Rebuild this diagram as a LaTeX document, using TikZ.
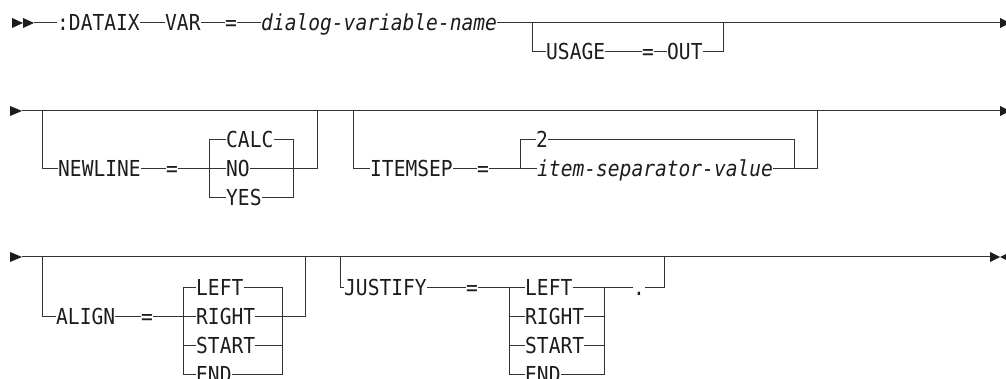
\documentclass[tikz,border=0pt]{standalone}
\usepackage{fontspec}
\setmonofont[FakeStretch=0.89]{DejaVu Sans Mono}
\usepackage{tikz}
\usetikzlibrary{arrows.meta}
\definecolor{ink}{HTML}{1C1C1C}
\definecolor{rail}{HTML}{333333}
\tikzset{
  kw/.style={font=\ttfamily\fontsize{22}{24}\selectfont,text=ink,inner xsep=0pt,inner ysep=0pt,
    text height=16pt,text depth=0pt,anchor=west},
  varname/.style={kw,font=\ttfamily\itshape\fontsize{22}{24}\selectfont},
  track/.style={draw=rail,line width=1pt},
  headfill/.style={fill=ink},
}

\begin{document}
\begin{tikzpicture}[x=1pt,y=-1pt]
  \useasboundingbox (0,0) rectangle (1006,379);

  % first line
  \fill[headfill] (12,18) -- (23,23) -- (12,28) -- cycle;
  \fill[headfill] (23,18) -- (34,23) -- (23,28) -- cycle;
  \fill[headfill] (1000,18) -- (1010,23) -- (1000,28) -- cycle;
  \coordinate (r1s) at (34,23);
  \coordinate (r1e) at (1000,23);
  \node[kw] (dataix) at (57,23) {:DATAIX};
  \node[kw] (var) at (165,23) {VAR};
  \node[kw] (eq1) at (225,23) {=};
  \node[varname] (dlg) at (261,23) {dialog-variable-name};
  \draw[track] (r1s) -- (dataix.west);
  \draw[track] (dataix.east) -- (var.west);
  \draw[track] (var.east) -- (eq1.west);
  \draw[track] (eq1.east) -- (dlg.west);
  \draw[track] (dlg.east) -- (r1e);

  \coordinate (u1) at (532,23);
  \coordinate (u2) at (723,23);
  \node[kw] (usage) at (546,52) {USAGE};
  \node[kw] (eq2) at (642,52) {=};
  \node[kw] (out) at (667,52) {OUT};
  \draw[track] (u1) |- (usage.west);
  \draw[track] (usage.east) -- (eq2.west);
  \draw[track] (eq2.east) -- (out.west);
  \draw[track] (out.east) -| (u2);

  % second line
  \fill[headfill] (10,106) -- (22,111) -- (10,116) -- cycle;
  \fill[headfill] (1000,106) -- (1010,111) -- (1000,116) -- cycle;
  \coordinate (r2s) at (22,111);
  \coordinate (r2e) at (1000,111);
  \draw[track] (r2s) -- (r2e);

  \coordinate (n1) at (42,111);
  \coordinate (n2) at (317,111);
  \coordinate (nl) at (209,140);
  \coordinate (nr) at (293,140);
  \node[kw] (newline) at (58,169) {NEWLINE};
  \node[kw] (eq3) at (166,169) {=};
  \node[kw] (calc) at (226,140) {CALC};
  \node[kw] (no) at (226,169) {NO};
  \node[kw] (yes) at (226,198) {YES};
  \draw[track] (n1) |- (newline.west);
  \draw[track] (newline.east) -- (eq3.west);
  \draw[track] (eq3.east) -- (no.west);
  \draw[track] (calc.west) -- (nl) -- (nl |- yes.west) -- (yes.west);
  \draw[track] (calc.east) -- (nr) -- (nr |- yes.east) -- (yes.east);
  \draw[track] (no.east) -- (n2 |- no.east) -- (n2);

  \coordinate (i1) at (353,111);
  \coordinate (i2) at (817,111);
  \coordinate (il) at (520,140);
  \coordinate (ir) at (794,140);
  \node[kw] (itemsep) at (370,169) {ITEMSEP};
  \node[kw] (eq4) at (477,169) {=};
  \node[kw] (two) at (536,140) {2};
  \node[varname] (isv) at (537,169) {item-separator-value};
  \draw[track] (i1) |- (itemsep.west);
  \draw[track] (itemsep.east) -- (eq4.west);
  \draw[track] (eq4.east) -- (isv.west);
  \draw[track] (two.west) -- (il) -- (il |- isv.west);
  \draw[track] (two.east) -- (ir) -- (ir |- isv.east);
  \draw[track] (isv.east) -- (i2 |- isv.east) -- (i2);

  % third line
  \fill[headfill] (10,252) -- (22,257) -- (10,262) -- cycle;
  \fill[headfill] (990,252) -- (1000,257) -- (990,262) -- cycle;
  \fill[headfill] (1000,257) -- (1010,252) -- (1010,262) -- cycle;
  \coordinate (r3s) at (22,257);
  \coordinate (r3e) at (990,257);
  \draw[track] (r3s) -- (r3e);

  \coordinate (a1) at (42,257);
  \coordinate (a2) at (305,257);
  \coordinate (al) at (183,287);
  \coordinate (ar) at (282,287);
  \node[kw] (align) at (56,316) {ALIGN};
  \node[kw] (eq5) at (141,316) {=};
  \node[kw] (aleft) at (196,287) {LEFT};
  \node[kw] (aright) at (196,316) {RIGHT};
  \node[kw] (astart) at (196,345) {START};
  \node[kw] (aend) at (196,374) {END};
  \draw[track] (a1) |- (align.west);
  \draw[track] (align.east) -- (eq5.west);
  \draw[track] (eq5.east) -- (aright.west);
  \draw[track] (aleft.west) -- (al) -- (al |- aend.west) -- (aend.west);
  \draw[track] (al |- astart.west) -- (astart.west);
  \draw[track] (aleft.east) -- (ar) -- (ar |- aend.east) -- (aend.east);
  \draw[track] (astart.east) -- (ar |- astart.east);
  \draw[track] (aright.east) -- (a2 |- aright.east) -- (a2);

  \coordinate (j1) at (340,257);
  \coordinate (j2) at (664,257);
  \coordinate (jl) at (509,287);
  \coordinate (jr) at (604,287);
  \node[kw] (justify) at (344,287) {JUSTIFY};
  \node[kw] (eq6) at (466,287) {=};
  \node[kw] (jleft) at (525,287) {LEFT};
  \node[kw] (jright) at (525,316) {RIGHT};
  \node[kw] (jstart) at (525,345) {START};
  \node[kw] (jend) at (525,374) {END};
  \node[kw] (dot) at (633,287) {.};
  \draw[track] (j1) |- (justify.west);
  \draw[track] (justify.east) -- (eq6.west);
  \draw[track] (eq6.east) -- (jleft.west);
  \draw[track] (jl) -- (jl |- jend.west) -- (jend.west);
  \draw[track] (jl |- jright.west) -- (jright.west);
  \draw[track] (jl |- jstart.west) -- (jstart.west);
  \draw[track] (jleft.east) -- (dot.west);
  \draw[track] (jr) -- (jr |- jend.east) -- (jend.east);
  \draw[track] (jright.east) -- (jr |- jright.east);
  \draw[track] (jstart.east) -- (jr |- jstart.east);
  \draw[track] (dot.east) -- (j2 |- dot.east) -- (j2);
\end{tikzpicture}
\end{document}
